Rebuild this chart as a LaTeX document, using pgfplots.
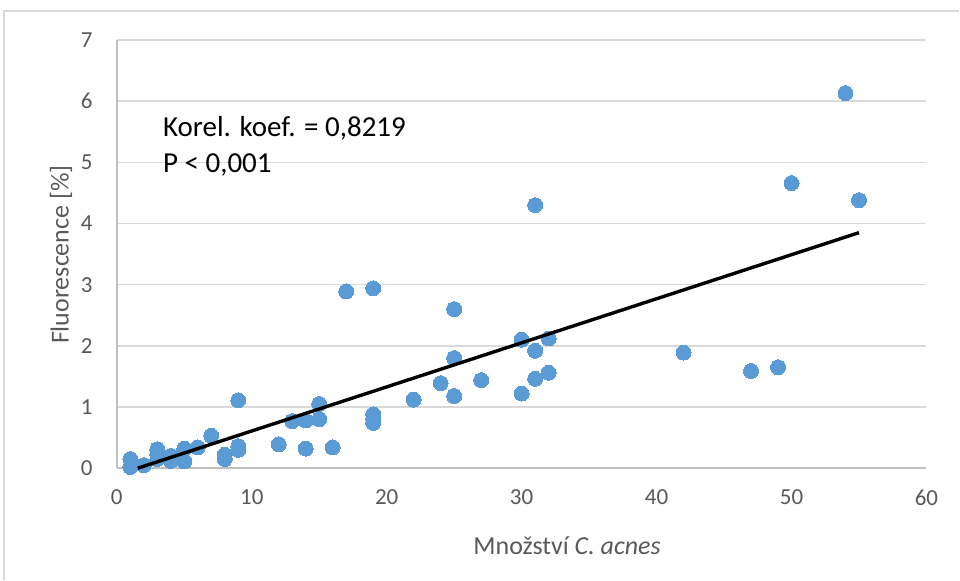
\documentclass[border=0pt]{standalone}
\usepackage{pgfplots}
\pgfplotsset{compat=1.18}
\usepackage{fontspec}
\setmainfont{Carlito}

\definecolor{dotblue}{HTML}{5B9BD5}
\definecolor{gridgray}{HTML}{D9D9D9}
\definecolor{axisgray}{HTML}{BFBFBF}
\definecolor{labelgray}{HTML}{595959}

% Fluorescence against the amount of C. acnes
\pgfplotstableread{
x y
1 0.15
1 0.02
2 0.05
3 0.31
3 0.22
3 0.15
4 0.20
4 0.12
5 0.32
5 0.11
6 0.34
7 0.53
8 0.22
8 0.15
9 1.11
9 0.36
9 0.30
12 0.39
13 0.77
14 0.78
14 0.32
15 1.05
15 0.80
16 0.34
17 2.89
19 2.94
19 0.88
19 0.80
19 0.74
22 1.12
24 1.39
25 2.60
25 1.80
25 1.18
27 1.44
30 2.10
30 1.22
31 4.30
31 1.92
31 1.46
32 2.12
32 1.56
42 1.89
47 1.59
49 1.65
50 4.66
54 6.13
55 4.38
}\datatable

% linear trend line, cut off at y = 0
\pgfplotstableread{
x y
1.55 0
55 3.85
}\trendtable

\begin{document}
\begin{tikzpicture}
\path (-58.5pt,-55pt) rectangle (421.5pt,234.5pt);
\draw[gridgray, line width=0.6pt] (-56.5pt,-56pt) -- (-56.5pt,229pt) -- (422pt,229pt);
\begin{axis}[
  set layers,
  at={(0,0)}, anchor=south west,
  scale only axis, width=405.5pt, height=214.5pt,
  xmin=0, xmax=60, ymin=0, ymax=7,
  xtick={0,10,...,60}, ytick={0,1,...,7},
  axis x line*=bottom, axis y line*=left,
  axis line style={axisgray, line width=0.75pt},
  ymajorgrids, grid style={gridgray, line width=0.75pt},
  major tick length=0pt,
  clip=false,
  /pgf/number format/assume math mode=true,
  ticklabel style={font=\fontsize{11.5}{13}\selectfont, text=labelgray},
  yticklabel style={anchor=east, inner sep=0pt, xshift=-12pt},
  xticklabel style={anchor=north, inner sep=0pt, yshift=-10.5pt},
]
\addplot[only marks, color=dotblue, mark=*, mark size=3.75pt,
  mark options={draw=dotblue, fill=dotblue, line width=0pt}]
  table[x=x, y=y] {\datatable};
\addplot[black, line width=1.7pt, on layer=axis foreground] table[x=x, y=y] {\trendtable};
\end{axis}
\node[anchor=base west, inner sep=0pt, font=\fontsize{14.5}{17}\selectfont] at (23pt,166.2pt) {Korel. koef. = 0,8219};
\node[anchor=base west, inner sep=0pt, font=\fontsize{14.5}{17}\selectfont] at (23pt,148.2pt) {P < 0,001};
\node[rotate=90, inner sep=0pt, font=\fontsize{13}{15}\selectfont, text=labelgray] at (-28pt,107pt) {Fluorescence [\%]};
\node[inner sep=0pt, font=\fontsize{13}{15}\selectfont, text=labelgray] at (225.5pt,-39pt) {Množství \textit{C. acnes}};
\end{tikzpicture}
\end{document}
